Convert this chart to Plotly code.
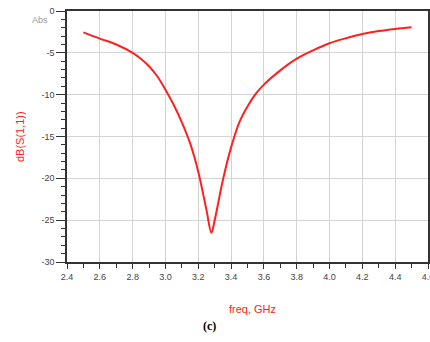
import plotly.graph_objects as go

freq = [2.5, 2.6, 2.7, 2.8, 2.85, 2.9, 2.95, 3.0, 3.05, 3.1, 3.15, 3.2, 3.25, 3.28, 3.3, 3.35, 3.4, 3.45, 3.5,
        3.55, 3.6, 3.7, 3.8, 3.9, 4.0, 4.1, 4.2, 4.3, 4.4, 4.5]
s11 = [-2.55, -3.3, -4.0, -5.0, -5.7, -6.6, -7.8, -9.4, -11.2, -13.3, -15.8, -19.2, -23.8, -26.5, -25.0, -20.2,
       -16.3, -13.3, -11.4, -9.9, -8.8, -7.1, -5.7, -4.7, -3.85, -3.25, -2.75, -2.4, -2.15, -1.95]
x_ticks = [2.4, 2.6, 2.8, 3.0, 3.2, 3.4, 3.6, 3.8, 4.0, 4.2, 4.4, 4.6]
x_labels = ["2.4", "2.6", "2.8", "3.0", "3.2", "3.4", "3.6", "3.8", "4.0", "4.2", "4.4", "4.6"]
y_ticks = [0, -5, -10, -15, -20, -25, -30]
y_labels = ["0", "-5", "-10", "-15", "-20", "-25", "-30"]

fig = go.Figure()
fig.add_trace(go.Scatter(x=freq, y=s11, mode="lines",
                         line=dict(color="#ff2020", width=2, shape="spline", smoothing=1.0),
                         showlegend=False, hoverinfo="skip"))

axis_common = dict(showline=True, linecolor="#333333", linewidth=1.5, mirror=True,
                   showgrid=True, gridcolor="#d4d4d4", gridwidth=1, zeroline=False,
                   ticks="outside", tickcolor="#333333", tickwidth=1, automargin=False,
                   ticklabeloverflow="allow",
                   tickfont=dict(family="Liberation Sans", size=9, color="#444444"))

fig.update_xaxes(range=[2.4, 4.6], tickvals=x_ticks, ticktext=x_labels, ticklen=5,
                 minor=dict(dtick=0.1, tick0=2.4, ticks="outside", ticklen=4, tickcolor="#333333", showgrid=False),
                 **axis_common)
fig.update_yaxes(range=[-30, 0], tickvals=y_ticks, ticktext=y_labels, ticklen=9,
                 minor=dict(dtick=1, tick0=0, ticks="outside", ticklen=4, tickcolor="#333333", showgrid=False),
                 **axis_common)

fig.update_layout(
    width=430, height=342,
    margin=dict(l=67, r=2, t=11, b=80, autoexpand=False),
    paper_bgcolor="white", plot_bgcolor="white",
    annotations=[
        dict(text="Abs", xref="paper", yref="paper", x=-0.075, y=0.964, showarrow=False,
             font=dict(family="Liberation Sans", size=9, color="#999999"), xanchor="center", yanchor="middle"),
        dict(text="dB(S(1,1))", xref="paper", yref="paper", x=-0.13, y=0.498, showarrow=False, textangle=-90,
             font=dict(family="Liberation Sans", size=11, color="#ff2020"), xanchor="center", yanchor="middle"),
        dict(text="freq, GHz", xref="paper", yref="paper", x=0.515, y=-0.187, showarrow=False,
             font=dict(family="Liberation Sans", size=11, color="#ff2020"), xanchor="center", yanchor="middle"),
        dict(text="<b>(c)</b>", xref="paper", yref="paper", x=0.396, y=-0.255, showarrow=False,
             font=dict(family="Liberation Serif", size=12, color="#000000"), xanchor="center", yanchor="middle"),
    ],
)

fig.write_html("out.html", config={"displayModeBar": False},
               post_script="document.body.style.margin='0';document.body.style.overflow='hidden';")
